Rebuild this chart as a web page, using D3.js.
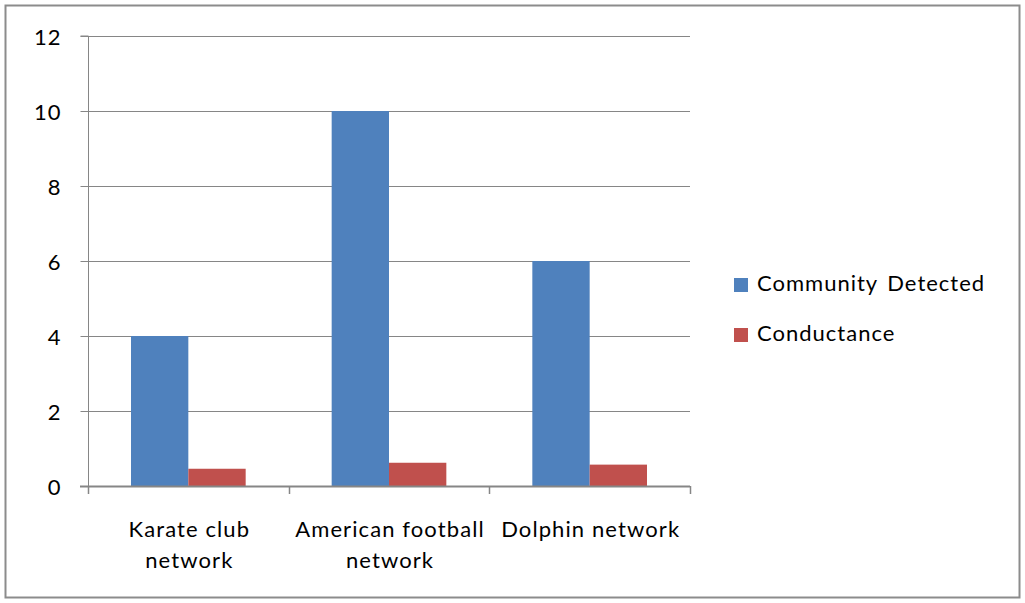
<!DOCTYPE html>
<html><head><meta charset="utf-8">
<script src="https://cdn.jsdelivr.net/npm/d3@7/dist/d3.min.js"></script>
<style>body{margin:0;background:#fff}svg{display:block}text{font-family:Lato,"Liberation Sans",Arial,sans-serif;fill:#000}</style>
</head><body>
<script>
const categories = [["Karate club","network"],["American football","network"],["Dolphin network"]];
const seriesNames = ["Community Detected","Conductance"];
const communityDetected = [4, 10, 6];
const conductance = [0.46, 0.62, 0.57];
const yTicks = [0,2,4,6,8,10,12];
const colors = ["#4F81BD","#C0504D"];

(function(){
const W=1025,H=603;
const svg=d3.select("body").append("svg").attr("width",W).attr("height",H);
svg.append("rect").attr("x",5.5).attr("y",5.5).attr("width",1014).attr("height",592)
  .attr("fill","#fff").attr("stroke","#8c8c8c").attr("stroke-width",2);

const pL=88,pR=690,pT=36,pB=486;
const y=d3.scaleLinear().domain([0,12]).range([pB,pT]);
const x=d3.scaleBand().domain(d3.range(categories.length)).range([pL,pR]).paddingInner(0).paddingOuter(0);
const xs=d3.scaleBand().domain([0,1]).range([0,x.bandwidth()]).paddingInner(0).paddingOuter(0.75);

const g=svg.append("g");
g.selectAll("line").data(yTicks.filter(d=>d>0)).join("line")
  .attr("x1",pL).attr("x2",pR).attr("y1",d=>Math.round(y(d))+0.5).attr("y2",d=>Math.round(y(d))+0.5)
  .attr("stroke","#868686").attr("stroke-width",1);

const ya=d3.axisLeft(y).tickValues(yTicks).tickSize(8).tickPadding(19).tickFormat(d3.format("d"));
const yg=svg.append("g").attr("transform",`translate(${pL+0.5},0)`).call(ya);
yg.select(".domain").attr("stroke","#868686").attr("d",`M-8,${pT}H0V${pB}`);
yg.selectAll(".tick line").attr("stroke","#868686");
yg.selectAll(".tick text").style("font-size","22px").style("letter-spacing","1px").attr("fill","#000").attr("dy","0.4em");

const series=[communityDetected,conductance];
series.forEach((vals,si)=>{
  svg.append("g").selectAll("rect").data(vals).join("rect")
    .attr("x",(d,i)=>x(i)+xs(si))
    .attr("width",xs.bandwidth())
    .attr("y",d=>y(d)).attr("height",d=>pB-y(d))
    .attr("fill",colors[si]);
});

const xa=svg.append("g");
xa.append("line").attr("x1",pL-8).attr("x2",pR).attr("y1",pB+0.5).attr("y2",pB+0.5).attr("stroke","#868686").attr("stroke-width",2);
const bounds=d3.range(categories.length+1).map(i=>pL+i*x.bandwidth());
xa.selectAll("line.t").data(bounds).join("line").attr("class","t").attr("x1",d=>Math.round(d)+0.5).attr("x2",d=>Math.round(d)+0.5)
  .attr("y1",pB).attr("y2",pB+8).attr("stroke","#868686").attr("stroke-width",1.5);
categories.forEach((lines,i)=>{
  const t=xa.append("text").attr("text-anchor","middle").style("font-size","22px").style("letter-spacing","1.1px");
  lines.forEach((l,j)=>t.append("tspan").attr("x",x(i)+x.bandwidth()/2+1).attr("y",537+j*31).text(l));
});

const lg=svg.append("g");
seriesNames.forEach((n,i)=>{
  lg.append("rect").attr("x",734).attr("y",278+i*50).attr("width",14).attr("height",14).attr("fill",colors[i]);
  lg.append("text").attr("x",757).attr("y",291+i*50).style("font-size","22px").style("letter-spacing","1px").style("word-spacing","3px").text(n);
});
})();
</script>
</body></html>
